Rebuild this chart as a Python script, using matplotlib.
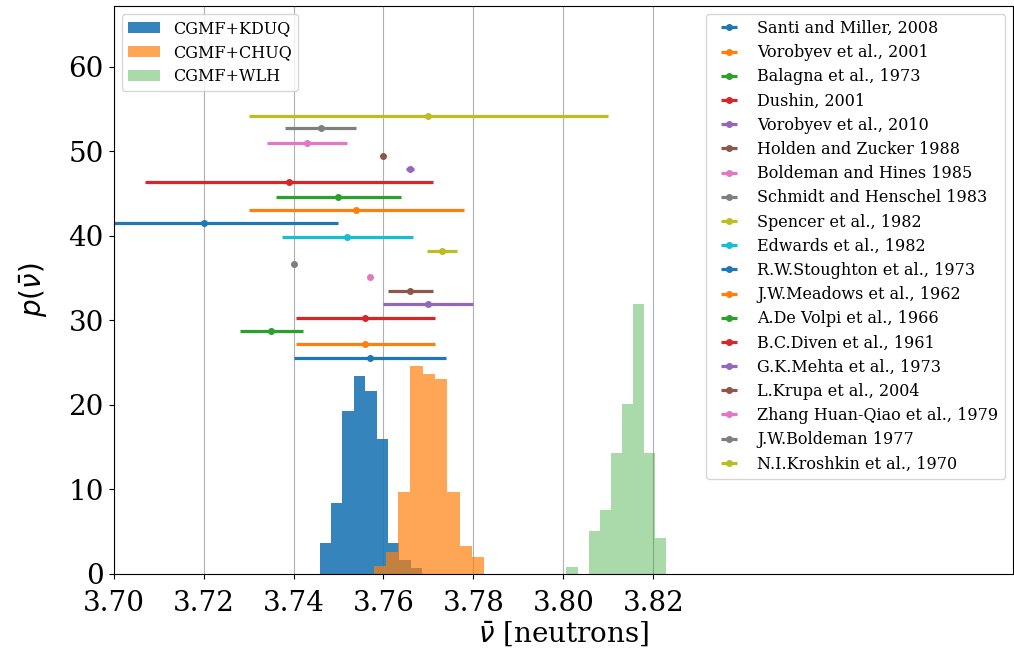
import numpy as np
import matplotlib
matplotlib.use("Agg")
import matplotlib.pyplot as plt

plt.rcParams['font.family'] = 'serif'

# CGMF histograms: value range and bar heights (9 bins each)
model_names = ["CGMF+KDUQ", "CGMF+CHUQ", "CGMF+WLH"]
kduq_range = (3.7458, 3.7686)
kduq_heights = [3.7, 8.35, 19.3, 23.4, 21.6, 16.0, 3.7, 1.65, 0.74]
chuq_range = (3.7578, 3.7824)
chuq_heights = [0.94, 2.63, 9.72, 24.6, 23.7, 23.0, 9.72, 3.34, 1.97]
wlh_range = (3.8007, 3.8228)
wlh_heights = [0.86, 0.0, 5.11, 7.56, 14.25, 20.07, 31.96, 14.25, 4.21]

# experimental nu-bar values
exp_labels = [
    "Santi and Miller, 2008", "Vorobyev et al., 2001", "Balagna et al., 1973",
    "Dushin, 2001", "Vorobyev et al., 2010", "Holden and Zucker 1988",
    "Boldeman and Hines 1985", "Schmidt and Henschel 1983", "Spencer et al., 1982",
    "Edwards et al., 1982", "R.W.Stoughton et al., 1973", "J.W.Meadows et al., 1962",
    "A.De Volpi et al., 1966", "B.C.Diven et al., 1961", "G.K.Mehta et al., 1973",
    "L.Krupa et al., 2004", "Zhang Huan-Qiao et al., 1979", "J.W.Boldeman 1977",
    "N.I.Kroshkin et al., 1970",
]
exp_nu = [3.757, 3.756, 3.735, 3.756, 3.770, 3.766, 3.757, 3.740, 3.773, 3.752,
          3.720, 3.754, 3.750, 3.739, 3.766, 3.760, 3.743, 3.746, 3.770]
exp_err = [0.017, 0.0155, 0.007, 0.0155, 0.010, 0.005, 0.0, 0.0, 0.0034, 0.0145,
           0.030, 0.024, 0.014, 0.032, 0.0009, 0.0, 0.009, 0.008, 0.040]
exp_y = [25.5, 27.15, 28.7, 30.3, 31.95, 33.45, 35.1, 36.7, 38.2, 39.8,
         41.5, 43.1, 44.6, 46.3, 47.9, 49.4, 51.0, 52.7, 54.2]

x_ticks = [3.70, 3.72, 3.74, 3.76, 3.78, 3.80, 3.82]

fig = plt.figure(figsize=(10.14, 6.56), dpi=100)
ax = fig.add_axes([0.1121, 0.125, 0.8869, 0.8663])

hist_handles = []
for (lo, hi), heights, name, col, alpha in zip(
        [kduq_range, chuq_range, wlh_range],
        [kduq_heights, chuq_heights, wlh_heights],
        model_names, ["C0", "C1", "C2"], [0.9, 0.7, 0.4]):
    edges = np.linspace(lo, hi, len(heights) + 1)
    _, _, patches = ax.hist(edges[:-1], bins=edges, weights=heights,
                            color=col, alpha=alpha, label=name)
    hist_handles.append(patches[0])

err_handles = []
for i, (lab, nu, err, yy) in enumerate(zip(exp_labels, exp_nu, exp_err, exp_y)):
    h = ax.errorbar(nu, yy, xerr=err, fmt='o', color='C%d' % (i % 10),
                    markersize=4, elinewidth=2.3, capsize=0, label=lab)
    err_handles.append(h)

leg1 = ax.legend(handles=hist_handles, labels=model_names, loc='upper left',
                 fontsize=11.5, labelspacing=0.43)
ax.add_artist(leg1)
ax.legend(handles=err_handles, labels=exp_labels, loc='upper right',
          fontsize=11.5, labelspacing=0.45)

ax.set_xlim(3.70, 3.90)
ax.set_ylim(0, 67.2)
ax.set_xticks(x_ticks)
ax.set_yticks([0, 10, 20, 30, 40, 50, 60])
ax.tick_params(labelsize=20)
ax.tick_params(axis='x', pad=8)
ax.grid(axis='x')
ax.set_axisbelow(True)
ax.set_xlabel(r'$\bar{\nu}$ [neutrons]', fontsize=20, labelpad=2)
ax.set_ylabel(r'$p(\bar{\nu})$', fontsize=20, labelpad=14)

fig.savefig("out.png", dpi=100)
